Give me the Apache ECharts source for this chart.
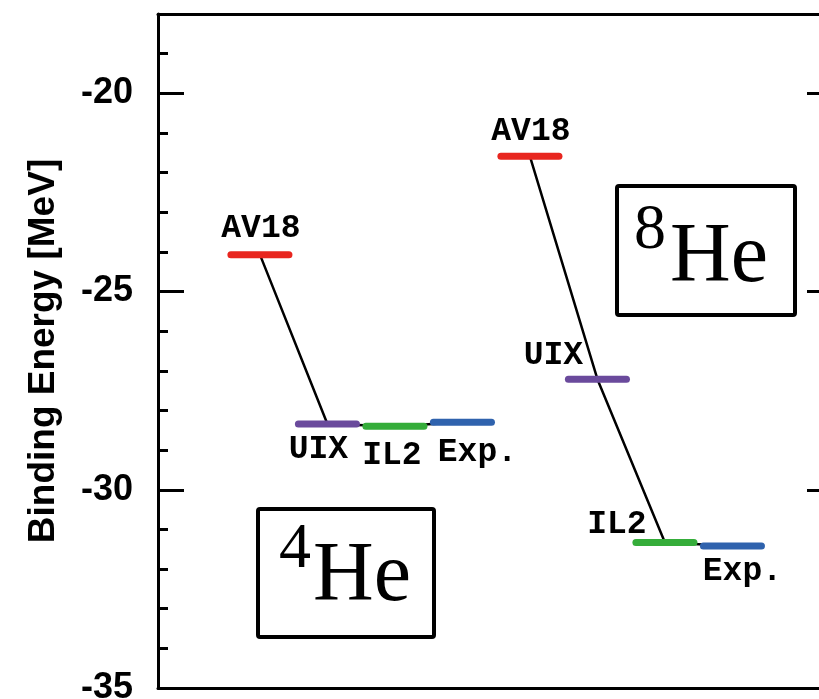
<!DOCTYPE html>
<html>
<head>
<meta charset="utf-8">
<script src="https://cdn.jsdelivr.net/npm/echarts@6/dist/echarts.min.js"></script>
<style>
html,body{margin:0;padding:0;background:#fff;}
#chart{width:819px;height:699px;}
</style>
</head>
<body>
<div id="chart"></div>
<script>
// ---- data ----
const levelNames = ['AV18', 'UIX', 'IL2', 'Exp.'];
const he4Slots = [0, 1, 2, 3];
const he4Energies = [-24.07, -28.34, -28.40, -28.30];
const he8Slots = [4, 5, 6, 7];
const he8Energies = [-21.59, -27.21, -31.33, -31.42];
const yMin = -35, yMax = -18;
const yMajorTicks = [-35, -30, -25, -20];

// ---- styles ----
const levelColors = ['#e8261f', '#6a4a9c', '#35ad3a', '#2f62ad'];
const he4LabelOffsets = [[1, -26], [-9, 26], [-3, 29], [15, 30]];
const he8LabelOffsets = [[1, -25], [-44, -23], [-48, -18], [10, 26]];
const HALF = 0.43;

function zip(xs, ys) { return xs.map((x, i) => [x, ys[i]]); }

function makeRender(offsets) {
  return function (params, api) {
    const x = api.value(0), y = api.value(1);
    const i = params.dataIndex;
    const p1 = api.coord([x - HALF, y]);
    const p2 = api.coord([x + HALF, y]);
    const c = api.coord([x, y]);
    return {
      type: 'group',
      children: [
        { type: 'line', shape: { x1: p1[0], y1: p1[1], x2: p2[0], y2: p2[1] },
          style: { stroke: levelColors[i], lineWidth: 7, lineCap: 'round' } },
        { type: 'text', x: c[0] + offsets[i][0], y: c[1] + offsets[i][1],
          style: { text: levelNames[i], fontFamily: '"Liberation Mono", monospace', fontWeight: 'bold',
                   fontSize: 33, fill: '#000', align: 'center', verticalAlign: 'middle' } }
      ]
    };
  };
}

const chart = echarts.init(document.getElementById('chart'), null, { renderer: 'canvas' });

const majorAxis = (pos, showLabel) => ({
  type: 'value', position: pos, min: yMin, max: yMax, interval: 5,
  name: showLabel ? 'Binding Energy [MeV]' : '',
  nameLocation: 'middle', nameGap: 96, nameRotate: 90,
  nameTextStyle: { fontFamily: '"Liberation Sans", Arial, sans-serif', fontSize: 37, fontWeight: 'bold', color: '#000' },
  axisLine: { show: true, onZero: false, lineStyle: { color: '#000', width: 3 } },
  axisTick: { show: true, inside: true, length: 26, lineStyle: { color: '#000', width: 3 } },
  axisLabel: { show: showLabel, margin: 25, fontFamily: '"Liberation Sans", Arial, sans-serif',
               fontSize: 36, fontWeight: 'bold', color: '#000',
               formatter: v => yMajorTicks.indexOf(v) >= 0 ? String(v) : '' },
  splitLine: { show: false }
});
const minorAxis = (pos) => ({
  type: 'value', position: pos, min: yMin, max: yMax, interval: 1,
  axisLine: { show: false, onZero: false },
  axisTick: { show: true, inside: true, length: 10, lineStyle: { color: '#000', width: 3 } },
  axisLabel: { show: false },
  splitLine: { show: false }
});
const frameX = (pos) => ({
  type: 'value', position: pos, min: -1.51, max: 8.49,
  axisLine: { show: true, onZero: false, lineStyle: { color: '#000', width: 3 } },
  axisTick: { show: false }, axisLabel: { show: false }, splitLine: { show: false }
});

chart.setOption({
  animation: false,
  backgroundColor: '#fff',
  grid: { left: 158, top: 14, width: 675, height: 674, show: false, containLabel: false,
          outerBoundsMode: 'none' },
  xAxis: [frameX('bottom'), frameX('top')],
  yAxis: [majorAxis('left', true), minorAxis('left'), majorAxis('right', false), minorAxis('right')],
  series: [
    { type: 'line', data: zip(he4Slots, he4Energies), yAxisIndex: 0, symbol: 'none',
      lineStyle: { color: '#000', width: 2.5 }, z: 2 },
    { type: 'line', data: zip(he8Slots, he8Energies), yAxisIndex: 0, symbol: 'none',
      lineStyle: { color: '#000', width: 2.5 }, z: 2 },
    { type: 'custom', data: zip(he4Slots, he4Energies), yAxisIndex: 0, renderItem: makeRender(he4LabelOffsets), z: 3 },
    { type: 'custom', data: zip(he8Slots, he8Energies), yAxisIndex: 0, renderItem: makeRender(he8LabelOffsets), z: 3 }
  ],
  graphic: [
    { type: 'rect', shape: { x: 258, y: 509, width: 176, height: 128, r: 2 },
      style: { fill: '#fff', stroke: '#000', lineWidth: 4 }, z: 10 },
    { type: 'text', x: 295, y: 550, z: 11,
      style: { text: '4', fontFamily: '"Liberation Serif", serif', fontSize: 64, fill: '#000', align: 'center', verticalAlign: 'middle' } },
    { type: 'text', x: 313, y: 578, z: 11,
      style: { text: 'He', fontFamily: '"Liberation Serif", serif', fontSize: 84, fill: '#000', align: 'left', verticalAlign: 'middle' } },
    { type: 'rect', shape: { x: 617, y: 186, width: 178, height: 129, r: 2 },
      style: { fill: '#fff', stroke: '#000', lineWidth: 4 }, z: 10 },
    { type: 'text', x: 650, y: 231, z: 11,
      style: { text: '8', fontFamily: '"Liberation Serif", serif', fontSize: 64, fill: '#000', align: 'center', verticalAlign: 'middle' } },
    { type: 'text', x: 670, y: 259, z: 11,
      style: { text: 'He', fontFamily: '"Liberation Serif", serif', fontSize: 84, fill: '#000', align: 'left', verticalAlign: 'middle' } }
  ]
});
</script>
</body>
</html>
